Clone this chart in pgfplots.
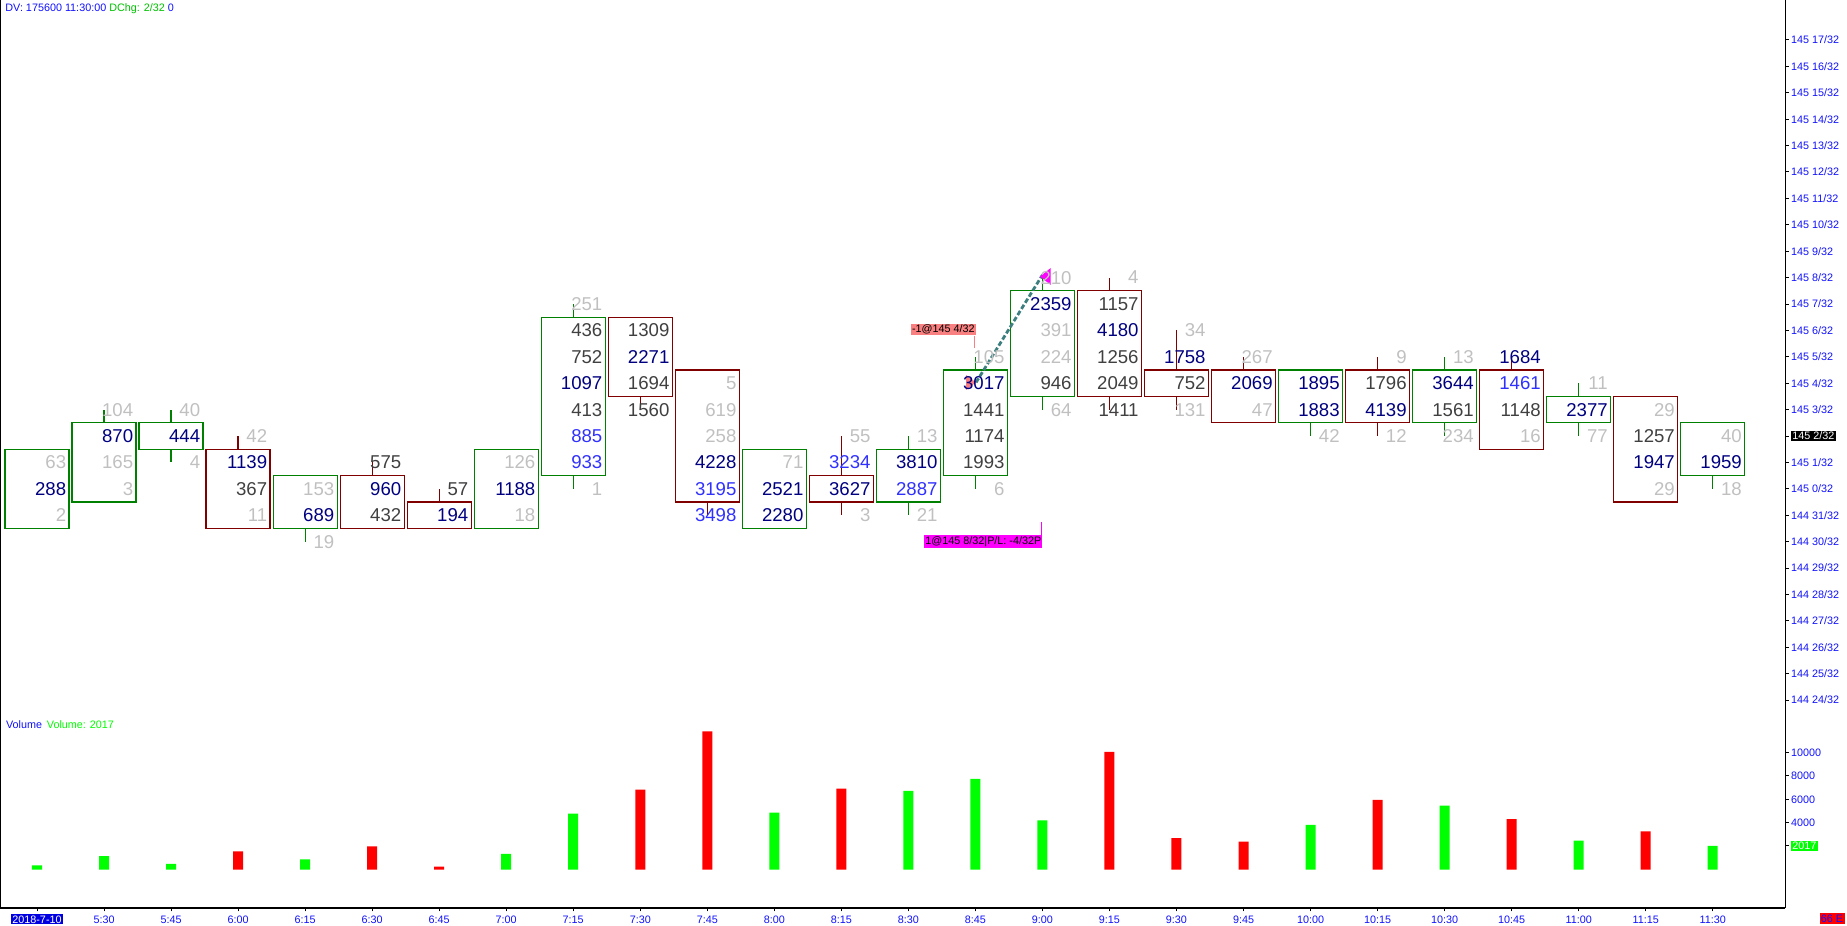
\documentclass[border=0pt]{standalone}
\usepackage{pgfplots}
\pgfplotsset{compat=1.18}
\usepackage{pgfplotstable}
\usepgfplotslibrary{statistics}
\usepackage{fontspec}
\setmainfont{Liberation Sans}
\definecolor{fN}{HTML}{000080}
\definecolor{fD}{HTML}{404040}
\definecolor{fL}{HTML}{C0C0C0}
\definecolor{fB}{HTML}{3030FF}
\definecolor{gbox}{HTML}{008000}
\definecolor{rbox}{HTML}{800000}
\definecolor{vgreen}{HTML}{00FF00}
\definecolor{vred}{HTML}{FF0000}
\definecolor{axblue}{HTML}{1010FF}
\definecolor{dateblue}{HTML}{0000E0}
\definecolor{salmon}{HTML}{F88080}
\definecolor{magen}{HTML}{FF00FF}
\definecolor{dashc}{HTML}{3D7F7F}
\definecolor{hdrgreen}{HTML}{00C000}
\newcommand\fpfont{\fontsize{9.3pt}{10pt}\selectfont}
\newcommand\smallfont{\fontsize{5.4pt}{6pt}\selectfont}
\setlength{\fboxsep}{0.6pt}

% footprint cells: bar index, price row (32nds above 145), volume
% navy cells
\pgfplotstableread{
i p v
0 0 288
1 2 870
2 2 444
3 1 1139
4 -1 689
5 0 960
6 -1 194
7 0 1188
8 4 1097
9 5 2271
10 1 4228
11 0 2521
11 -1 2280
12 0 3627
13 1 3810
14 4 3017
15 7 2359
16 6 4180
17 5 1758
18 4 2069
19 4 1895
19 3 1883
20 3 4139
21 4 3644
22 5 1684
23 3 2377
24 1 1947
25 1 1959
}\tabN
% dark grey cells
\pgfplotstableread{
i p v
3 0 367
5 1 575
5 -1 432
6 0 57
8 6 436
8 5 752
8 3 413
9 6 1309
9 4 1694
9 3 1560
14 3 1441
14 2 1174
14 1 1993
15 4 946
16 7 1157
16 5 1256
16 4 2049
16 3 1411
17 4 752
20 4 1796
21 3 1561
22 3 1148
24 2 1257
}\tabD
% blue cells
\pgfplotstableread{
i p v
8 2 885
8 1 933
10 0 3195
10 -1 3498
12 1 3234
13 0 2887
22 4 1461
}\tabB
% light grey cells
\pgfplotstableread{
i p v
0 1 63
0 -1 2
1 3 104
1 1 165
1 0 3
2 3 40
2 1 4
3 2 42
3 -1 11
4 0 153
4 -2 19
7 1 126
7 -1 18
8 7 251
8 0 1
10 4 5
10 3 619
10 2 258
11 1 71
12 2 55
12 -1 3
13 2 13
13 -1 21
14 5 105
14 0 6
15 8 210
15 6 391
15 5 224
15 3 64
16 8 4
17 6 34
17 3 131
18 5 267
18 3 47
19 2 42
20 5 9
20 2 12
21 5 13
21 2 234
22 2 16
23 4 11
23 2 77
24 3 29
24 0 29
25 2 40
25 0 18
}\tabL

% box: colour, bar, low wick, box bottom, box top, high wick
\newcommand\fpbox[6]{\addplot[draw=#1, line width=0.6pt, boxplot prepared={draw position=#2, lower whisker=#3, lower quartile=#4, median=#4, upper quartile=#5, upper whisker=#6, box extend=0.955, whisker extend=0}] coordinates {};}
\newcommand\fptext[2]{\addplot[only marks, mark=text, text mark={}, 
  point meta=explicit symbolic,
  nodes near coords={\pgfplotspointmeta},
  every node near coord/.append style={anchor=east, xshift=14.75pt, inner sep=0pt, font=\fpfont, text=#1}]
  table[x=i, y=p, meta=v] {#2};}

\begin{document}
\begin{tikzpicture}
\path[use as bounding box] (0pt,0pt) rectangle (923.5pt,-463pt);

\begin{axis}[
  at={(0pt,0pt)}, anchor=north west,
  scale only axis, width=892.65pt, height=358.5pt,
  xmin=-0.552, xmax=26.083, ymin=-8.644, ymax=18.515,
  hide x axis,
  axis line style={line width=0.6pt},
  boxplot/draw direction=y,
  boxplot/every median/.style={draw=none},
  ytick={-8,...,17},
  yticklabels={144 24/32,144 25/32,144 26/32,144 27/32,144 28/32,144 29/32,144 30/32,144 31/32,145 0/32,145 1/32,\colorbox{black}{\textcolor{white}{145 2/32}},145 3/32,145 4/32,145 5/32,145 6/32,145 7/32,145 8/32,145 9/32,145 10/32,145 11/32,145 12/32,145 13/32,145 14/32,145 15/32,145 16/32,145 17/32},
  ytick pos=right, tick align=outside, major tick length=1.7pt,
  tick style={black, line width=0.5pt},
  yticklabel style={anchor=west, inner sep=0pt, xshift=1pt, font=\smallfont, text=axblue},
  clip=false,
]
\fptext{fN}{\tabN}
\fptext{fD}{\tabD}
\fptext{fB}{\tabB}
\fptext{fL}{\tabL}

\fpbox{gbox}{0}{-1.5}{-1.5}{1.5}{1.5}
\fpbox{gbox}{1}{-0.5}{-0.5}{2.5}{3}
\fpbox{gbox}{2}{1}{1.5}{2.5}{3}
\fpbox{rbox}{3}{-1.5}{-1.5}{1.5}{2}
\fpbox{gbox}{4}{-2}{-1.5}{0.5}{0.5}
\fpbox{rbox}{5}{-1.5}{-1.5}{0.5}{1}
\fpbox{rbox}{6}{-1.5}{-1.5}{-0.5}{0}
\fpbox{gbox}{7}{-1.5}{-1.5}{1.5}{1.5}
\fpbox{gbox}{8}{0}{0.5}{6.5}{7}
\fpbox{rbox}{9}{3}{3.5}{6.5}{6.5}
\fpbox{rbox}{10}{-1}{-0.5}{4.5}{4.5}
\fpbox{gbox}{11}{-1.5}{-1.5}{1.5}{1.5}
\fpbox{rbox}{12}{-1}{-0.5}{0.5}{2}
\fpbox{gbox}{13}{-1}{-0.5}{1.5}{2}
\fpbox{gbox}{14}{0}{0.5}{4.5}{5}
\fpbox{gbox}{15}{3}{3.5}{7.5}{8}
\fpbox{rbox}{16}{3}{3.5}{7.5}{8}
\fpbox{rbox}{17}{3}{3.5}{4.5}{6}
\fpbox{rbox}{18}{2.5}{2.5}{4.5}{5}
\fpbox{gbox}{19}{2}{2.5}{4.5}{4.5}
\fpbox{rbox}{20}{2}{2.5}{4.5}{5}
\fpbox{gbox}{21}{2}{2.5}{4.5}{5}
\fpbox{rbox}{22}{1.5}{1.5}{4.5}{5}
\fpbox{gbox}{23}{2}{2.5}{3.5}{4}
\fpbox{rbox}{24}{-0.5}{-0.5}{3.5}{3.5}
\fpbox{gbox}{25}{0}{0.5}{2.5}{2.5}

% trade markers
\addplot[dashc, line width=1.4pt, dash pattern=on 2.4pt off 1.2pt] coordinates {(14.01,4.03) (15.0,8.1)};
\addplot[salmon, line width=0.5pt] coordinates {(13.985,5.35) (13.985,5.8)};
\addplot[magen, line width=0.5pt] coordinates {(14.98,-1.26) (14.98,-1.75)};
\addplot[fill=salmon, draw=none] coordinates {(14.009,4.03) (13.86,4.31) (13.86,3.74)};
\addplot[fill=magen, draw=none] coordinates {(14.964,8.04) (15.124,8.364) (15.124,7.72)};
\node[fill=salmon, inner sep=0.5pt, anchor=south east, font=\smallfont, text=black] at (axis cs:14.01,5.8) {-1@145 4/32};
\node[fill=magen, inner sep=0.5pt, anchor=north east, font=\smallfont, text=black] at (axis cs:15.004,-1.75) {1@145 8/32|P/L: -4/32P};
\end{axis}

\begin{axis}[
  at={(0pt,-358.5pt)}, anchor=north west,
  scale only axis, width=892.65pt, height=95.5pt,
  xmin=-0.552, xmax=26.083, ymin=-3291, ymax=13034,
  axis x line*=bottom,
  axis line style={line width=0.6pt},
  xtick={0,...,25},
  xticklabels={\colorbox{dateblue}{\textcolor{white}{2018-7-10}},5:30,5:45,6:00,6:15,6:30,6:45,7:00,7:15,7:30,7:45,8:00,8:15,8:30,8:45,9:00,9:15,9:30,9:45,10:00,10:15,10:30,10:45,11:00,11:15,11:30},
  xtick pos=bottom, ytick pos=right, tick align=outside, major tick length=1.7pt,
  tick style={black, line width=0.5pt},
  xticklabel style={anchor=base, inner sep=0pt, yshift=-5.8pt, font=\smallfont, text=axblue},
  ytick={4000,6000,8000,10000},
  yticklabels={4000,6000,8000,10000},
  extra y ticks={2017},
  extra y tick labels={\colorbox{vgreen}{\textcolor{white}{2017}}},
  scaled y ticks=false,
  yticklabel style={anchor=west, inner sep=0pt, xshift=1pt, font=\smallfont, text=axblue},
  clip=false,
]
\addplot[ybar, bar shift=0pt, bar width=5pt, fill=vgreen, draw=none] coordinates {(0,353) (1,1142) (2,488) (4,861) (7,1332) (8,4768) (11,4872) (13,6731) (14,7736) (15,4194) (19,3820) (21,5452) (23,2465) (25,2017)};
\addplot[ybar, bar shift=0pt, bar width=5pt, fill=vred, draw=none] coordinates {(3,1559) (5,1967) (6,251) (9,6834) (10,11803) (12,6919) (16,10057) (17,2675) (18,2383) (20,5956) (22,4309) (24,3262)};
\end{axis}

\node[anchor=base west, inner sep=0pt, font=\smallfont] at (2.5pt,-5.5pt) {\textcolor{axblue}{DV: 175600 11:30:00} \textcolor{hdrgreen}{DChg: 2/32} \textcolor{axblue}{0}};
\node[anchor=base west, inner sep=0pt, font=\smallfont] at (2.85pt,-364pt) {\textcolor{axblue}{Volume}\hspace{2.4pt}\textcolor{vgreen}{Volume: 2017}};
\node[fill=vred, inner sep=0.7pt, anchor=center, font=\smallfont, text=axblue] at (916pt,-459.2pt) {66 E};
\end{tikzpicture}
\end{document}
